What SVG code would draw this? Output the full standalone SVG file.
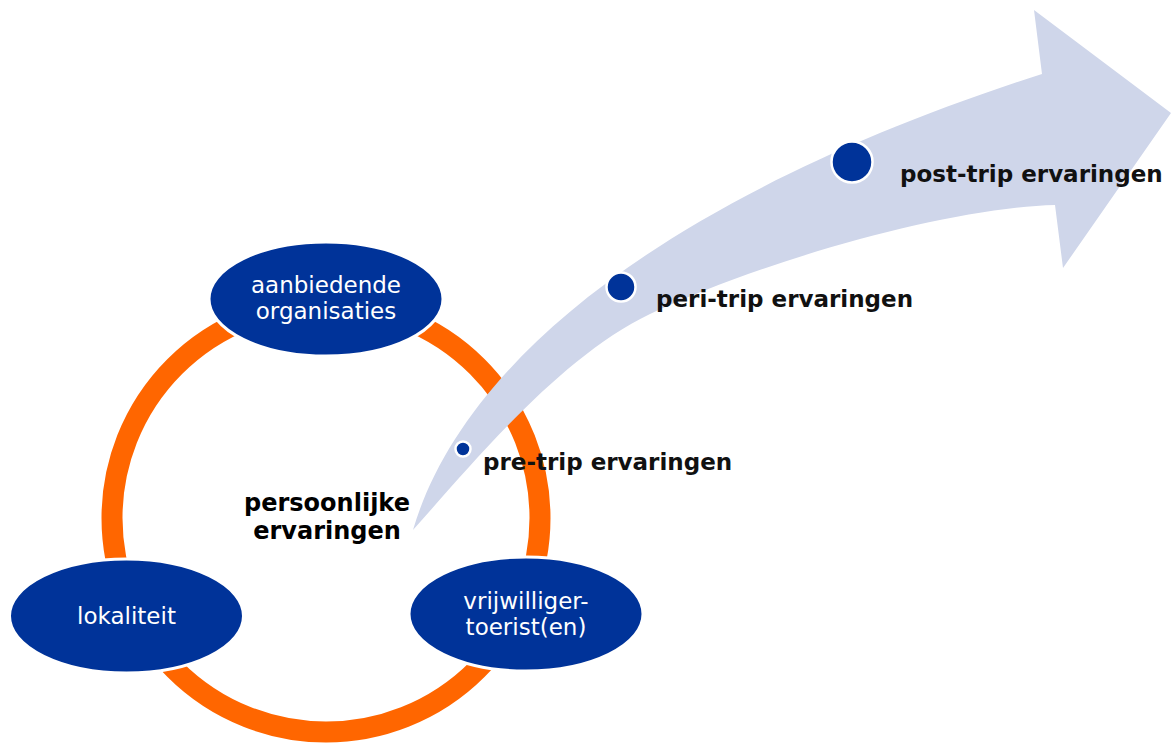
<svg xmlns="http://www.w3.org/2000/svg" width="1173" height="744" viewBox="0 0 1173 744">
<style>
.node{fill:#003399;stroke:#ffffff;stroke-width:3}
.nl{font-family:"DejaVu Sans",Verdana,sans-serif;font-size:23px;fill:#ffffff;text-anchor:middle}
.bl{font-family:"DejaVu Sans",Verdana,sans-serif;font-size:23px;font-weight:bold;fill:#111111}
.cl{font-family:"DejaVu Sans",Verdana,sans-serif;font-size:24px;font-weight:bold;fill:#000000;text-anchor:middle}
.dot{fill:#003399;stroke:#ffffff;stroke-width:2.5}
</style>
<rect width="1173" height="744" fill="#ffffff"/>
<g id="connectors">
<circle id="ring" cx="326" cy="518" r="214" fill="none" stroke="#FF6600" stroke-width="21"/>
<path id="arrow" d="M413,530 C460,370 650,200 1042,74 L1034,10 L1171,113 L1063,268 L1055,205 C950,208 770,258 650,314 C560,357 473,463 413,530 Z" fill="#CFD6EA"/>
</g>
<g id="center">
<text class="cl" x="327" y="511">persoonlijke</text>
<text class="cl" x="327" y="539">ervaringen</text>
</g>
<g id="node-top">
<ellipse class="node" cx="326" cy="299" rx="117" ry="57"/>
<text class="nl" x="326" y="293">aanbiedende</text>
<text class="nl" x="326" y="319">organisaties</text>
</g>
<g id="node-left">
<ellipse class="node" cx="126.5" cy="616" rx="117" ry="57"/>
<text class="nl" x="126.5" y="624">lokaliteit</text>
</g>
<g id="node-right">
<ellipse class="node" cx="526" cy="614" rx="117" ry="57"/>
<text class="nl" x="526" y="609">vrijwilliger-</text>
<text class="nl" x="526" y="635">toerist(en)</text>
</g>
<g id="pre-trip">
<circle class="dot" cx="463" cy="449" r="7.5"/>
<text class="bl" x="483" y="470">pre-trip ervaringen</text>
</g>
<g id="peri-trip">
<circle class="dot" cx="621" cy="287" r="14.5"/>
<text class="bl" x="656" y="307">peri-trip ervaringen</text>
</g>
<g id="post-trip">
<circle class="dot" cx="852" cy="162" r="20.5"/>
<text class="bl" x="900" y="182">post-trip ervaringen</text>
</g>
</svg>
